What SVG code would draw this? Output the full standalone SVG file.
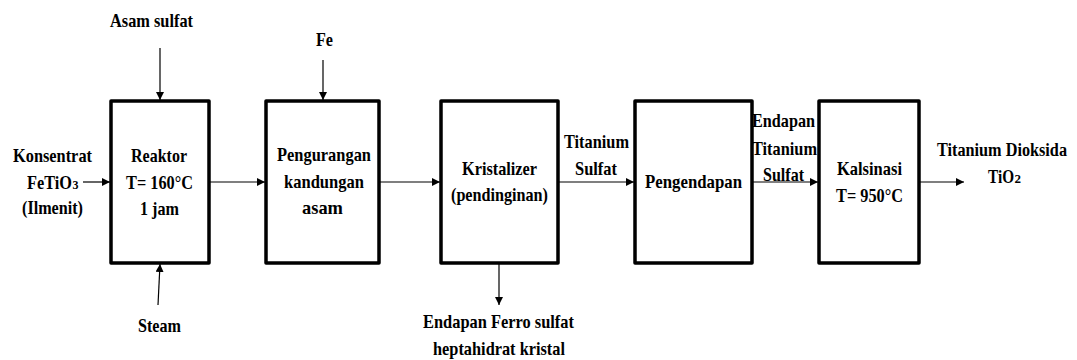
<svg xmlns="http://www.w3.org/2000/svg" width="1077" height="360" viewBox="0 0 1077 360">
<style>
.box{fill:#fff;stroke:#000;stroke-width:3.5;stroke-linejoin:round}
.ln{stroke:#000;stroke-width:1.2;fill:none;marker-end:url(#ah)}
.t{font-family:"Liberation Serif","Times New Roman",Times,serif;font-weight:700;font-size:19.5px;fill:#000;text-anchor:middle}
.s{font-family:"Liberation Serif","Times New Roman",Times,serif;font-weight:700;font-size:13px;fill:#000;text-anchor:start}
</style>
<defs>
<marker id="ah" viewBox="0 0 10 10" refX="10" refY="5" markerWidth="8" markerHeight="8" markerUnits="userSpaceOnUse" orient="auto">
<path d="M0,0 L10,5 L0,10 z" fill="#000"/>
</marker>
</defs>
<rect width="1077" height="360" fill="#fff"/>
<g id="connectors">
<line class="ln" x1="83" y1="182" x2="110" y2="182"/>
<line class="ln" x1="209" y1="182" x2="265" y2="182"/>
<line class="ln" x1="380" y1="182" x2="440" y2="182"/>
<line class="ln" x1="558" y1="182" x2="634" y2="182"/>
<line class="ln" x1="752" y1="182" x2="818" y2="182"/>
<line class="ln" x1="919" y1="182" x2="964" y2="182"/>
<line class="ln" x1="160" y1="48" x2="160" y2="100"/>
<line class="ln" x1="323" y1="60" x2="323" y2="100"/>
<line class="ln" x1="158" y1="305" x2="160" y2="264"/>
<line class="ln" x1="499" y1="263" x2="499" y2="305"/>
</g>
<g id="reaktor">
<rect class="box" x="111" y="101" width="98" height="162"/>
<text class="t" x="159" y="162" textLength="56" lengthAdjust="spacingAndGlyphs">Reaktor</text>
<text class="t" x="159.5" y="189" textLength="67" lengthAdjust="spacingAndGlyphs">T= 160°C</text>
<text class="t" x="159.5" y="215" textLength="39" lengthAdjust="spacingAndGlyphs">1 jam</text>
</g>
<g id="pengurangan">
<rect class="box" x="266" y="101" width="113" height="162"/>
<text class="t" x="324" y="161" textLength="94" lengthAdjust="spacingAndGlyphs">Pengurangan</text>
<text class="t" x="324" y="188" textLength="80" lengthAdjust="spacingAndGlyphs">kandungan</text>
<text class="t" x="322.5" y="214" textLength="41" lengthAdjust="spacingAndGlyphs">asam</text>
</g>
<g id="kristalizer">
<rect class="box" x="441" y="101" width="117" height="162"/>
<text class="t" x="499.5" y="175" textLength="75" lengthAdjust="spacingAndGlyphs">Kristalizer</text>
<text class="t" x="499.5" y="201" textLength="97" lengthAdjust="spacingAndGlyphs">(pendinginan)</text>
</g>
<g id="pengendapan">
<rect class="box" x="635" y="101" width="117" height="162"/>
<text class="t" x="693.5" y="188" textLength="97" lengthAdjust="spacingAndGlyphs">Pengendapan</text>
</g>
<g id="kalsinasi">
<rect class="box" x="819" y="101" width="100" height="162"/>
<text class="t" x="869.5" y="175" textLength="65" lengthAdjust="spacingAndGlyphs">Kalsinasi</text>
<text class="t" x="869.5" y="202" textLength="67" lengthAdjust="spacingAndGlyphs">T= 950°C</text>
</g>
<g id="labels">
<text class="t" x="151.5" y="27" textLength="83" lengthAdjust="spacingAndGlyphs">Asam sulfat</text>
<text class="t" x="324.5" y="46" textLength="17" lengthAdjust="spacingAndGlyphs">Fe</text>
<text class="t" x="52.5" y="162" textLength="79" lengthAdjust="spacingAndGlyphs">Konsentrat</text>
<text class="t" x="49.5" y="189" textLength="45" lengthAdjust="spacingAndGlyphs">FeTiO</text>
<text class="s" x="72.5" y="189" textLength="6" lengthAdjust="spacingAndGlyphs">3</text>
<text class="t" x="52.5" y="214" textLength="61" lengthAdjust="spacingAndGlyphs">(Ilmenit)</text>
<text class="t" x="159.5" y="332" textLength="43" lengthAdjust="spacingAndGlyphs">Steam</text>
<text class="t" x="596.5" y="148" textLength="65" lengthAdjust="spacingAndGlyphs">Titanium</text>
<text class="t" x="596" y="175" textLength="42" lengthAdjust="spacingAndGlyphs">Sulfat</text>
<text class="t" x="498.5" y="328" textLength="151" lengthAdjust="spacingAndGlyphs">Endapan Ferro sulfat</text>
<text class="t" x="499" y="355" textLength="132" lengthAdjust="spacingAndGlyphs">heptahidrat kristal</text>
<text class="t" x="783.5" y="127" textLength="63" lengthAdjust="spacingAndGlyphs">Endapan</text>
<text class="t" x="784.5" y="155" textLength="65" lengthAdjust="spacingAndGlyphs">Titanium</text>
<text class="t" x="783.5" y="181" textLength="41" lengthAdjust="spacingAndGlyphs">Sulfat</text>
<text class="t" x="1002" y="156" textLength="130" lengthAdjust="spacingAndGlyphs" style="font-size:18px">Titanium Dioksida</text>
<text class="t" x="1001" y="183" textLength="26" lengthAdjust="spacingAndGlyphs">TiO</text>
<text class="s" x="1014.5" y="183" textLength="6.5" lengthAdjust="spacingAndGlyphs">2</text>
</g>
</svg>
